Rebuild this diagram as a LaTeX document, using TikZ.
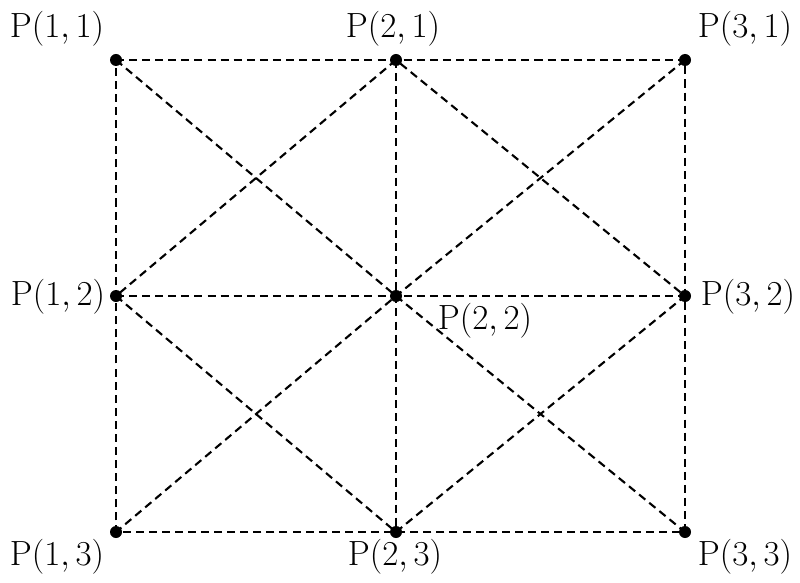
\documentclass[tikz,border=0pt]{standalone}
\begin{document}
\begin{tikzpicture}[x=0.025cm,y=-0.025cm,
    pt/.style={circle,fill=black,inner sep=0pt,minimum size=0.3cm},
    lbl/.style={font=\fontsize{24}{28}\selectfont,inner sep=0pt},
    edge/.style={dashed,dash pattern=on 5.7pt off 3.6pt,line width=1.5pt}]
    \useasboundingbox (0,0) rectangle (800,583);
    % grid points
    \node (p11) [pt] at (116,60) {};
    \node (p21) [pt] at (396,60) {};
    \node (p31) [pt] at (685,60) {};
    \node (p12) [pt] at (116,296) {};
    \node (p22) [pt] at (396,296) {};
    \node (p32) [pt] at (685,296) {};
    \node (p13) [pt] at (116,532) {};
    \node (p23) [pt] at (396,532) {};
    \node (p33) [pt] at (685,532) {};
    % labels
    \node (l11) [lbl] at (57,29) {$\mathrm{P}(1,1)$};
    \node (l21) [lbl] at (393,29) {$\mathrm{P}(2,1)$};
    \node (l31) [lbl] at (745,29) {$\mathrm{P}(3,1)$};
    \node (l12) [lbl] at (58,297) {$\mathrm{P}(1,2)$};
    \node (l22) [lbl] at (485,321) {$\mathrm{P}(2,2)$};
    \node (l32) [lbl] at (748,297) {$\mathrm{P}(3,2)$};
    \node (l13) [lbl] at (57,557) {$\mathrm{P}(1,3)$};
    \node (l23) [lbl] at (395,557) {$\mathrm{P}(2,3)$};
    \node (l33) [lbl] at (745,557) {$\mathrm{P}(3,3)$};
    % grid lines
    \draw[edge] (p11.center) -- (p21.center) -- (p31.center) -- (p32.center) -- (p33.center) -- (p23.center) -- (p13.center) -- (p12.center) -- cycle;
    \draw[edge] (p21.center) -- (p22.center) -- (p23.center);
    \draw[edge] (p12.center) -- (p22.center) -- (p32.center);
    % diagonals
    \draw[edge] (p11.center) -- (p22.center) -- (p33.center);
    \draw[edge] (p31.center) -- (p22.center) -- (p13.center);
    \draw[edge] (p21.center) -- (p12.center) -- (p23.center) -- (p32.center) -- cycle;
\end{tikzpicture}
\end{document}
